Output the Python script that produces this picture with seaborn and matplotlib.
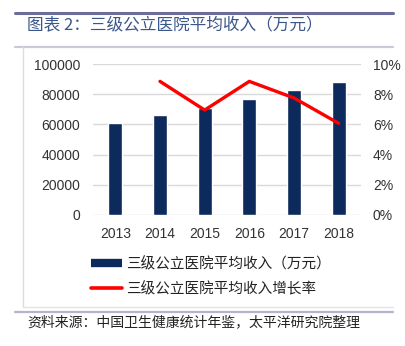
import numpy as np
import pandas as pd
import matplotlib
matplotlib.use("Agg")
import matplotlib.pyplot as plt
from matplotlib.lines import Line2D
import seaborn as sns

# ---- data ----
years = ["2013", "2014", "2015", "2016", "2017", "2018"]
income = [60700, 66000, 70700, 76800, 83000, 88100]
growth = [np.nan, 8.85, 6.95, 8.85, 7.75, 6.07]   # percent
left_ticks = [0, 20000, 40000, 60000, 80000, 100000]
right_ticks = [0, 2, 4, 6, 8, 10]
title = "图表 2：三级公立医院平均收入（万元）"
bar_label = "三级公立医院平均收入（万元）"
line_label = "三级公立医院平均收入增长率"
source = "资料来源：中国卫生健康统计年鉴，太平洋研究院整理"

sns.set_theme(style="white")
plt.rcParams["font.family"] = ["Liberation Sans", "Noto Sans CJK SC", "DejaVu Sans"]
cjk = ["Noto Sans CJK SC", "DejaVu Sans"]

W, H = 406, 346
fig = plt.figure(figsize=(W / 100, H / 100), dpi=100)

def fx(px):
    return px / W

def fy(py):
    return 1 - py / H

navy = "#0c2a5c"
red = "#ff0000"
grid = "#d9d9d9"
txt = "#333333"

# decorative frame lines
fig.add_artist(Line2D([fx(15), fx(393)], [fy(12.5), fy(12.5)], color="#6c6c9c", lw=2.2))
fig.add_artist(Line2D([fx(15), fx(393)], [fy(46.5), fy(46.5)], color="#c9c9da", lw=1.6))
fig.add_artist(Line2D([fx(23.5), fx(23.5)], [fy(47), fy(307)], color="#dcdcdc", lw=1.0))
fig.add_artist(Line2D([fx(23.5), fx(393)], [fy(307), fy(307)], color="#e4e4e4", lw=1.0))
fig.add_artist(Line2D([fx(15), fx(393)], [fy(311.5), fy(311.5)], color="#b4b4d2", lw=1.6))

fig.text(fx(27), fy(25.5), title, family=cjk, fontsize=12, color="#3a568a",
         va="center", ha="left")
fig.text(fx(27), fy(322), source, family=cjk, fontsize=10, color="#222222",
         va="center", ha="left", style="italic")

# ---- main axes ----
ax = fig.add_axes([fx(93), fy(215), fx(361) - fx(93), (215 - 64) / H])
df = pd.DataFrame({"year": years, "income": income, "growth": growth})
sns.barplot(data=df, x="year", y="income", color=navy, width=0.31,
            saturation=1, ax=ax, zorder=3)
ax.set_xlim(-0.5, len(years) - 0.5)
ax.set_ylim(0, 100000)
ax.set_yticks(left_ticks)
ax.set_yticklabels([str(v) for v in left_ticks])
ax.yaxis.grid(True, color=grid, lw=1.0, zorder=0)
ax.set_axisbelow(True)
for s in ax.spines.values():
    s.set_visible(False)
ax.set_xlabel("")
ax.set_ylabel("")
ax.tick_params(axis="y", length=0, pad=9.4, labelsize=10, labelcolor=txt)
ax.tick_params(axis="x", length=0, pad=8.5, labelsize=10, labelcolor=txt)

ax2 = ax.twinx()
pos = [years.index(y) for y in years]
sns.lineplot(x=pos, y=growth, color=red, lw=2.4, ax=ax2, legend=False)
ax2.set_ylim(0, 10)
ax2.set_yticks(right_ticks)
ax2.set_yticklabels([f"{v}%" for v in right_ticks])
for s in ax2.spines.values():
    s.set_visible(False)
ax2.set_ylabel("")
ax2.tick_params(axis="y", length=0, pad=8.6, labelsize=10, labelcolor=txt)
ax2.set_xlim(-0.5, len(years) - 0.5)

# ---- legend ----
handles = [Line2D([], [], color=navy, lw=6, solid_capstyle="butt"),
           Line2D([], [], color=red, lw=2.6, solid_capstyle="round")]
leg = fig.legend(handles, [bar_label, line_label], loc="upper left",
                 bbox_to_anchor=(fx(91), fy(257)), frameon=False,
                 prop={"family": cjk, "size": 10.5}, handlelength=2.1,
                 handletextpad=0.3, labelspacing=0.72, borderpad=0,
                 borderaxespad=0)
for t in leg.get_texts():
    t.set_color("#222222")

fig.savefig("out.png", dpi=100)
